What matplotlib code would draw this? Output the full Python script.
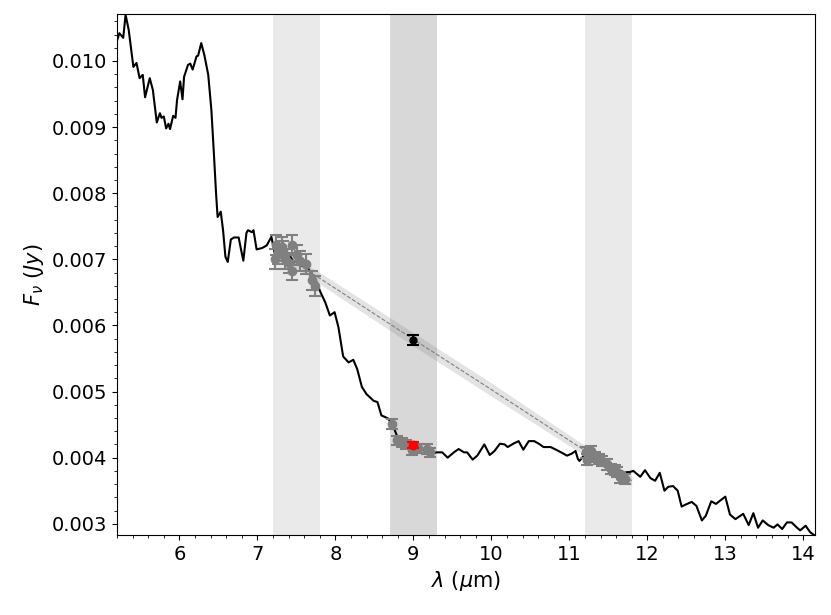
import numpy as np
import matplotlib
matplotlib.use('Agg')
import matplotlib.pyplot as plt
from matplotlib.ticker import AutoMinorLocator

# spectrum (wavelength in micron, flux in Jy)
wave = [5.19, 5.23, 5.28, 5.31, 5.35, 5.41, 5.45, 5.49, 5.53, 5.56, 5.62, 5.66,
        5.71, 5.75, 5.77, 5.80, 5.83, 5.86, 5.88, 5.92, 5.95, 5.97, 6.01, 6.04,
        6.06, 6.11, 6.14, 6.17, 6.22, 6.24, 6.28, 6.32, 6.37, 6.41, 6.44, 6.47,
        6.49, 6.53, 6.56, 6.59, 6.62, 6.66, 6.70, 6.76, 6.79, 6.82, 6.86, 6.88,
        6.93, 6.95, 6.99, 7.06, 7.12, 7.18, 7.22, 7.27, 7.32, 7.37, 7.42, 7.47,
        7.52, 7.57, 7.62, 7.68, 7.75, 7.81, 7.87, 7.93, 7.99, 8.04, 8.10, 8.17,
        8.23, 8.28, 8.34, 8.40, 8.49, 8.54, 8.59, 8.68, 8.75, 8.80, 8.86, 8.92,
        8.98, 9.04, 9.10, 9.17, 9.23, 9.30, 9.37, 9.44, 9.52, 9.58, 9.65, 9.69,
        9.76, 9.82, 9.91, 9.98, 10.04, 10.11, 10.17, 10.21, 10.28, 10.35, 10.41,
        10.48, 10.55, 10.61, 10.67, 10.76, 10.83, 10.91, 10.97, 11.03, 11.08,
        11.11, 11.13, 11.20, 11.27, 11.34, 11.41, 11.48, 11.55, 11.62, 11.70,
        11.77, 11.82, 11.91, 11.97, 12.04, 12.10, 12.16, 12.22, 12.27, 12.33,
        12.39, 12.44, 12.51, 12.57, 12.63, 12.70, 12.75, 12.82, 12.88, 13.00,
        13.06, 13.13, 13.23, 13.30, 13.36, 13.42, 13.48, 13.55, 13.62, 13.67,
        13.73, 13.79, 13.85, 13.92, 13.96, 14.03, 14.09, 14.15]
flux = [0.01027, 0.01042, 0.01035, 0.01070, 0.01047, 0.00991, 0.00997, 0.00974,
        0.00979, 0.00945, 0.00974, 0.00956, 0.00907, 0.00921, 0.00914, 0.00916,
        0.00898, 0.00905, 0.00897, 0.00917, 0.00914, 0.00941, 0.00969, 0.00942,
        0.00976, 0.00994, 0.00996, 0.00987, 0.01007, 0.01008, 0.01027, 0.01009,
        0.00979, 0.00926, 0.00865, 0.00800, 0.00764, 0.00772, 0.00744, 0.00704,
        0.00696, 0.00730, 0.00733, 0.00733, 0.00715, 0.00698, 0.00740, 0.00744,
        0.00741, 0.00744, 0.00715, 0.00717, 0.00721, 0.00734, 0.00710, 0.00702,
        0.00712, 0.00698, 0.00705, 0.00695, 0.00700, 0.00690, 0.00692, 0.00681,
        0.00668, 0.00650, 0.00635, 0.00615, 0.00620, 0.00597, 0.00553, 0.00544,
        0.00548, 0.00534, 0.00507, 0.00496, 0.00486, 0.00484, 0.00464, 0.00459,
        0.00445, 0.00430, 0.00425, 0.00420, 0.00415, 0.00418, 0.00412, 0.00410,
        0.00406, 0.00408, 0.00408, 0.00400, 0.00408, 0.00413, 0.00408, 0.00408,
        0.00397, 0.00403, 0.00420, 0.00404, 0.00410, 0.00421, 0.00420, 0.00416,
        0.00421, 0.00425, 0.00412, 0.00425, 0.00425, 0.00421, 0.00416, 0.00416,
        0.00412, 0.00407, 0.00403, 0.00406, 0.00410, 0.00398, 0.00395, 0.00405,
        0.00402, 0.00398, 0.00395, 0.00390, 0.00385, 0.00382, 0.00378, 0.00378,
        0.00380, 0.00371, 0.00381, 0.00369, 0.00365, 0.00377, 0.00350, 0.00356,
        0.00357, 0.00350, 0.00326, 0.00330, 0.00333, 0.00327, 0.00305, 0.00312,
        0.00334, 0.00330, 0.00341, 0.00314, 0.00307, 0.00315, 0.00298, 0.00316,
        0.00294, 0.00305, 0.00298, 0.00294, 0.00299, 0.00292, 0.00302, 0.00302,
        0.00294, 0.00290, 0.00297, 0.00287, 0.00282]

# continuum / feature windows
cont_windows = [(7.2, 7.8), (11.2, 11.8)]
feat_window = (8.7, 9.3)

# sampled points with errors
pts_x = [7.22, 7.24, 7.27, 7.31, 7.33, 7.36, 7.40, 7.44, 7.45, 7.51, 7.55,
         7.62, 7.70, 7.74,
         8.73, 8.79, 8.85, 8.91, 8.98, 9.06, 9.17, 9.21,
         11.21, 11.23, 11.28, 11.33, 11.38, 11.42, 11.48, 11.54, 11.58, 11.61,
         11.65, 11.72]
pts_y = [0.00701, 0.00721, 0.00708, 0.00719, 0.00712, 0.00701, 0.00695, 0.00721,
         0.00683, 0.00706, 0.00698, 0.00693, 0.00668, 0.00659,
         0.00451, 0.00426, 0.00423, 0.00420, 0.00411, 0.00414, 0.00413, 0.00408,
         0.00408, 0.00397, 0.00410, 0.00401, 0.00398, 0.00395, 0.00390, 0.00383,
         0.00381, 0.00378, 0.00370, 0.00368]
pts_err = [0.00015] * 14 + [0.00007] * 8 + [0.00008] * 12

# continuum fit and its uncertainty
fit_x = [7.2, 8.0, 9.0, 10.0, 11.0, 11.8]
fit_y = [0.00717, 0.00656, 0.00579, 0.00503, 0.00426, 0.00365]
fit_lo = [0.00710, 0.00647, 0.00569, 0.00493, 0.00418, 0.00358]
fit_hi = [0.00724, 0.00665, 0.00589, 0.00513, 0.00434, 0.00372]

# interpolated continuum and observed feature flux at 9 micron
cont_pt = (9.0, 0.00578, 0.00008)
feat_pt = (9.0, 0.00419, 0.00005)

fig, ax = plt.subplots(figsize=(8.31, 6.15), dpi=100)
fig.subplots_adjust(left=0.1408, right=0.9807, top=0.9772, bottom=0.1301)

for lo, hi in cont_windows:
    ax.axvspan(lo, hi, color='grey', alpha=0.16, lw=0)
ax.axvspan(*feat_window, color='grey', alpha=0.3, lw=0)

ax.plot(wave, flux, color='black', lw=1.5, zorder=3)

ax.fill_between(fit_x, fit_lo, fit_hi, color='grey', alpha=0.22, lw=0, zorder=4)
ax.plot(fit_x, fit_y, color='grey', ls='--', lw=0.8, zorder=5)

ax.errorbar(pts_x, pts_y, yerr=pts_err, fmt='o', color='grey', ms=6,
            elinewidth=1.5, capsize=4, capthick=1.5, zorder=6)
ax.errorbar(feat_pt[0], feat_pt[1], yerr=feat_pt[2], fmt='o', color='red',
            ms=6, elinewidth=1.5, capsize=4, capthick=1.5, zorder=7)
ax.errorbar(cont_pt[0], cont_pt[1], yerr=cont_pt[2], fmt='o', color='black',
            ms=5, elinewidth=1.5, capsize=4, capthick=1.5, zorder=7)

ax.set_xlim(5.2, 14.15)
ax.set_ylim(0.00283, 0.01071)
ax.xaxis.set_minor_locator(AutoMinorLocator())
ax.yaxis.set_minor_locator(AutoMinorLocator())
ax.tick_params(labelsize=14)
ax.set_xlabel(r'$\lambda$ ($\mu$m)', fontsize=15)
ax.set_ylabel(r'$F_{\nu}$ $(Jy)$', fontsize=15)

fig.savefig('out.png', dpi=100)
